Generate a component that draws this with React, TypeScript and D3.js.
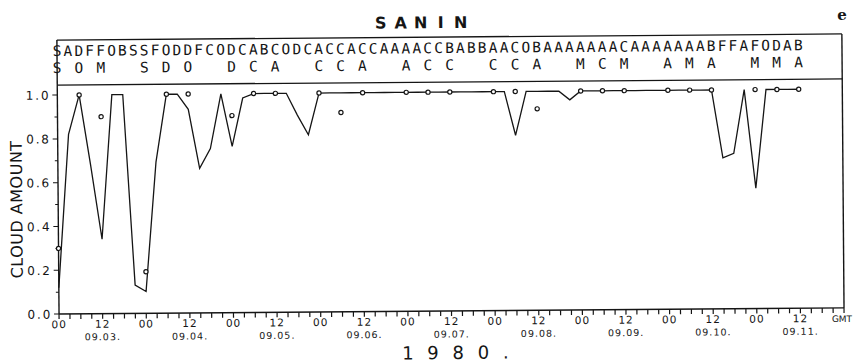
import React from 'react';
import * as d3 from 'd3';

// ---- data ----
const chartTitle = 'SANIN';
const panelTag = 'e';
const yearLabel = '1 9 8 0 .';
const yAxisTitle = 'CLOUD AMOUNT';

// 3-hourly cloud type letters (slot 0 = 09.03. 00 GMT)
const cloudTypes3h = 'SADFFOBSSFODDFCODCABCODCACCACCAAAACCBABBAACOBAAAAAAACAAAAAAABFFAFODAB';
// synoptic cloud type letters at 00, 06, 12 GMT of each day
const cloudTypesSynop = 'SOMSDODCACCAACCCCAMCMAMAMMA';
const synopHoursOfDay = [0, 6, 12];

const days = ['09.03.', '09.04.', '09.05.', '09.06.', '09.07.', '09.08.', '09.09.', '09.10.', '09.11.'];
const hourLabels = ['00', '12'];
const yTickValues = [0, 0.2, 0.4, 0.6, 0.8, 1.0];

// 3-hourly cloud amount (line)
const cloudAmount3h = [
  0.12, 0.82, 1.0, 0.68, 0.34, 1.0, 1.0, 0.13, 0.10, 0.69,
  1.0, 1.0, 0.93, 0.66, 0.75, 1.0, 0.76, 0.98, 1.0, 1.0,
  1.0, 1.0, 0.90, 0.81, 1.0, 1.0, 1.0, 1.0, 1.0, 1.0,
  1.0, 1.0, 1.0, 1.0, 1.0, 1.0, 1.0, 1.0, 1.0, 1.0,
  1.0, 1.0, 0.80, 1.0, 1.0, 1.0, 1.0, 0.96, 1.0, 1.0,
  1.0, 1.0, 1.0, 1.0, 1.0, 1.0, 1.0, 1.0, 1.0, 1.0,
  1.0, 0.69, 0.71, 1.0, 0.55, 1.0, 1.0, 1.0, 1.0,
];

// synoptic cloud amount (circles) at 00, 06, 12 GMT of each day
const cloudAmountSynop = [
  0.30, 1.0, 0.90,
  0.19, 1.0, 1.0,
  0.90, 1.0, 1.0,
  1.0, 0.91, 1.0,
  1.0, 1.0, 1.0,
  1.0, 1.0, 0.92,
  1.0, 1.0, 1.0,
  1.0, 1.0, 1.0,
  1.0, 1.0, 1.0,
];

export default function App() {
  const W = 853;
  const H = 362;
  const left = 58;
  const right = 843;
  const yBottom = 311;
  const yTop = 92;
  const boxTop = 37;
  const sepY = 82;
  const totalHours = days.length * 24;

  const x = d3.scaleLinear().domain([0, totalHours]).range([left, right]);
  const y = d3.scaleLinear().domain([0, 1]).range([yBottom, yTop]);

  const line = d3
    .line<number>()
    .x((_, i) => x(i * 3))
    .y((d) => y(d));

  const synopHours = days.flatMap((_, d) => synopHoursOfDay.map((h) => d * 24 + h));
  const tickHours = d3.range(0, totalHours + 1, 3);
  const labelHours = d3.range(0, totalHours, 12);
  const minorY = d3.range(0, 1.0001, 0.1);

  const ink = '#151515';
  const sans = 'DejaVu Sans, Verdana, sans-serif';
  const mono = 'DejaVu Sans Mono, monospace';

  return (
    <svg
      width={W}
      height={H}
      viewBox={`0 0 ${W} ${H}`}
      style={{ position: 'absolute', left: 0, top: 0, background: '#fff' }}
    >
      <rect x={0} y={0} width={W} height={H} fill="#fff" />
      <g transform="rotate(-0.45 450 180)">
        {/* title */}
        {chartTitle.split('').map((c, i) => (
          <text
            key={'t' + i}
            x={422 + (i - (chartTitle.length - 1) / 2) * 20}
            y={28}
            textAnchor="middle"
            fontFamily={sans}
            fontWeight="bold"
            fontSize={16}
            fill={ink}
          >
            {c}
          </text>
        ))}

        {/* frame */}
        <line x1={left} x2={right} y1={boxTop} y2={boxTop} stroke={ink} strokeWidth={1.3} />
        <line x1={left} x2={right} y1={sepY} y2={sepY} stroke={ink} strokeWidth={1.3} />
        <line x1={left} x2={left} y1={boxTop} y2={yBottom} stroke={ink} strokeWidth={1.4} />
        <line x1={right} x2={right} y1={boxTop} y2={yBottom} stroke={ink} strokeWidth={1.4} />
        <line x1={left} x2={right} y1={yBottom} y2={yBottom} stroke={ink} strokeWidth={1.4} />

        {/* cloud type rows */}
        {cloudTypes3h.split('').map((c, i) => (
          <text
            key={'r1' + i}
            x={x(i * 3)}
            y={53}
            textAnchor="middle"
            fontFamily={mono}
            fontSize={14.5}
            fill={ink}
          >
            {c}
          </text>
        ))}
        {cloudTypesSynop.split('').map((c, i) => (
          <text
            key={'r2' + i}
            x={x(synopHours[i])}
            y={70}
            textAnchor="middle"
            fontFamily={mono}
            fontSize={14.5}
            fill={ink}
          >
            {c}
          </text>
        ))}

        {/* y axis ticks and labels */}
        {minorY.map((v, i) => (
          <line
            key={'my' + i}
            x1={left - (i % 2 === 0 ? 5 : 3)}
            x2={left}
            y1={y(v)}
            y2={y(v)}
            stroke={ink}
            strokeWidth={1}
          />
        ))}
        {yTickValues.map((v) => (
          <text
            key={'yl' + v}
            x={51}
            y={y(v) + 4.5}
            textAnchor="end"
            fontFamily={sans}
            fontSize={12}
            letterSpacing={1.8}
            fill={ink}
          >
            {v.toFixed(1)}
          </text>
        ))}
        <text
          transform={`translate(22, 206) rotate(-90)`}
          textAnchor="middle"
          fontFamily={sans}
          fontSize={16}
          letterSpacing={0.5}
          fill={ink}
        >
          {yAxisTitle}
        </text>

        {/* x axis ticks and labels */}
        {tickHours.map((h) => (
          <line
            key={'xt' + h}
            x1={x(h)}
            x2={x(h)}
            y1={yBottom}
            y2={yBottom + 5}
            stroke={ink}
            strokeWidth={1.2}
          />
        ))}
        {labelHours.map((h, i) => (
          <text
            key={'xl' + h}
            x={x(h)}
            y={yBottom + 14}
            textAnchor="middle"
            fontFamily={sans}
            fontSize={10.5}
            letterSpacing={1}
            fill={ink}
          >
            {hourLabels[i % 2]}
          </text>
        ))}
        <text
          x={851}
          y={yBottom + 14}
          textAnchor="end"
          fontFamily={sans}
          fontSize={9}
          fill={ink}
        >
          GMT
        </text>
        {days.map((d, i) => (
          <text
            key={'d' + d}
            x={x(i * 24 + 12)}
            y={yBottom + 26.5}
            textAnchor="middle"
            fontFamily={sans}
            fontSize={9.5}
            letterSpacing={1}
            fill={ink}
          >
            {d}
          </text>
        ))}
        <text
          x={456}
          y={359}
          textAnchor="middle"
          fontFamily={sans}
          fontSize={18}
          letterSpacing={4}
          fill={ink}
        >
          {yearLabel}
        </text>

        {/* data */}
        <path d={line(cloudAmount3h) || ''} fill="none" stroke={ink} strokeWidth={1.3} strokeLinejoin="miter" />
        {cloudAmountSynop.map((v, i) => (
          <circle
            key={'c' + i}
            cx={x(synopHours[i])}
            cy={y(v)}
            r={2.1}
            fill="#fff"
            stroke={ink}
            strokeWidth={1.2}
          />
        ))}
      </g>
      <text x={842} y={20} textAnchor="middle" fontFamily="DejaVu Serif, serif" fontWeight="bold" fontSize={15} fill={ink}>
        {panelTag}
      </text>
    </svg>
  );
}
